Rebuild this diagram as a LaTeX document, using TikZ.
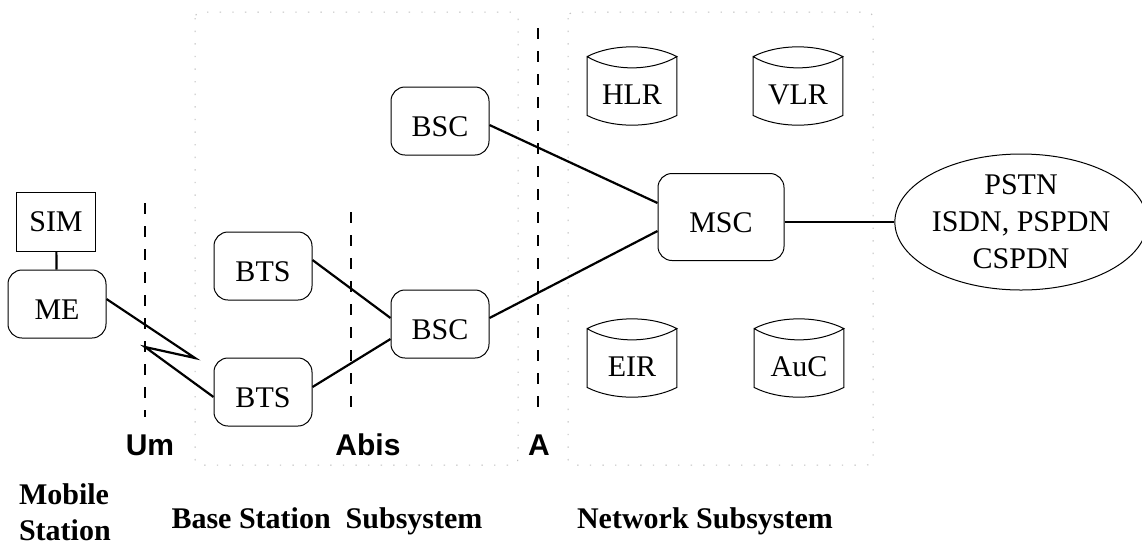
\documentclass[tikz,border=0pt]{standalone}
\usepackage{fontspec}
\setmainfont{Liberation Serif}
\setsansfont{Liberation Sans}
\usepackage{xcolor}
\usepackage{tikz}
\usetikzlibrary{shapes.geometric}

\tikzset{
	unit/.style={draw, rounded corners=7pt, line width=0.5pt, inner sep=0pt, minimum width=49pt, minimum height=34pt, text height=15pt, text depth=0pt},
	dbase/.style={inner sep=0pt, minimum width=44.5pt, minimum height=39pt},
	dbtext/.style={yshift=-4.5pt, inner sep=0pt},
	link/.style={line width=1.1pt},
	iface/.style={line width=0.6pt, dash pattern=on 5.5pt off 6pt},
	iflabel/.style={font=\sffamily\bfseries\fontsize{15}{18}\selectfont},
	grplabel/.style={font=\bfseries\fontsize{15}{18}\selectfont, align=left},
	grpbox/.style={draw=gray!50, line width=0.5pt, dash pattern=on 0.7pt off 5.6pt, rounded corners=3pt}
}

\newcommand\dbdraw[1]{%
	\draw[line width=0.5pt] ([yshift=-5pt]#1.north west) .. controls +(12.5pt,6.5pt) and +(-12.5pt,6.5pt) .. ([yshift=-5pt]#1.north east)
		.. controls +(-12.5pt,-7.5pt) and +(12.5pt,-7.5pt) .. ([yshift=-5pt]#1.north west)
		-- ([yshift=5pt]#1.south west) .. controls +(12.5pt,-6.5pt) and +(-12.5pt,-6.5pt) .. ([yshift=5pt]#1.south east)
		-- ([yshift=-5pt]#1.north east);}

\begin{document}
\begin{tikzpicture}[x=0.5pt, y=-0.5pt, every node/.style={font=\fontsize{15}{18.5}\selectfont}]
	\useasboundingbox (0,0) rectangle (1142,548);

	% subsystems
	\draw[grpbox] (195,12) rectangle (518,465);
	\draw[grpbox] (568,12) rectangle (873,465);

	% interfaces
	\draw[iface] (145,203) -- (145,417);
	\draw[iface] (351,212) -- (351,417);
	\draw[iface] (538,28) -- (538,417);
	\node[iflabel] (um) at (150,445) {Um};
	\node[iflabel] (abis) at (368,445) {Abis};
	\node[iflabel] (a) at (539,445) {A};

	% mobile station
	\node[draw, line width=0.5pt, minimum width=39.5pt, minimum height=29.5pt] (sim) at (56,222) {SIM};
	\node[unit] (me) at (57,304) {ME};

	% base station subsystem
	\node[unit] (bts1) at (263,266) {BTS};
	\node[unit] (bts2) at (263,392) {BTS};
	\node[unit] (bsc1) at (440,121) {BSC};
	\node[unit] (bsc2) at (440,324) {BSC};

	% network subsystem
	\node[unit, minimum width=63pt, minimum height=43.5pt] (msc) at (721,217) {MSC};
	\node[dbase] (hlr) at (632,86) {};
	\node[dbase] (vlr) at (798,86) {};
	\node[dbase] (eir) at (632,358) {};
	\node[dbase] (auc) at (799,358) {};
	\node[dbtext] at (hlr) {HLR};
	\node[dbtext] at (vlr) {VLR};
	\node[dbtext] at (eir) {EIR};
	\node[dbtext] at (auc) {AuC};
	\dbdraw{hlr}
	\dbdraw{vlr}
	\dbdraw{eir}
	\dbdraw{auc}

	\node[draw, ellipse, line width=0.5pt, inner sep=0pt, minimum width=119pt, minimum height=68pt, align=center] (net) at (1021,222) {PSTN\\ISDN, PSPDN\\CSPDN};

	% links
	\coordinate (zz1) at (195,358);
	\coordinate (zz2) at (145,347);
	\draw[link] (sim) -- (me);
	\draw[link] ([yshift=2.5pt]me.east) -- (zz1) -- (zz2) -- ([yshift=-2.5pt]bts2.west);
	\draw[link] ([yshift=3pt]bts1.east) -- ([yshift=3pt]bsc2.west);
	\draw[link] ([yshift=2.5pt]bts2.east) -- ([yshift=-7.5pt]bsc2.west);
	\draw[link] ([yshift=3pt]bsc2.east) -- ([yshift=-7pt]msc.west);
	\draw[link] ([yshift=-2pt]bsc1.east) -- ([yshift=7pt]msc.west);
	\draw[link] ([yshift=-2.5pt]msc.east) -- (net.west);

	% groups
	\node[grplabel, anchor=west] (ms) at (12,512) {Mobile\\Station};
	\node[grplabel] (bss) at (327,521) {Base Station\ \ Subsystem};
	\node[grplabel] (nss) at (705,521) {Network Subsystem};
\end{tikzpicture}
\end{document}
